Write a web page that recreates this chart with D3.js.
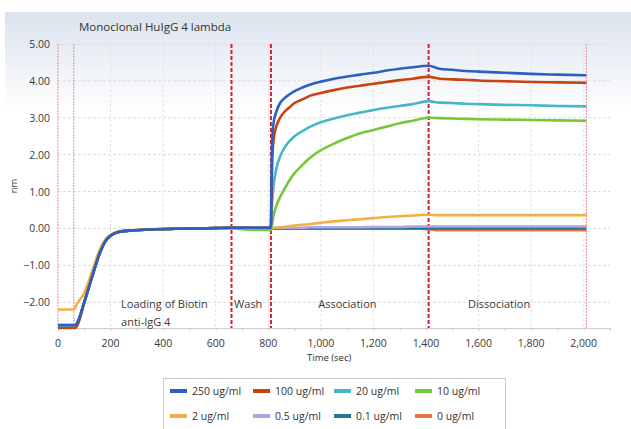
<!DOCTYPE html>
<html>
<head>
<meta charset="utf-8">
<script src="https://cdn.jsdelivr.net/npm/d3@7"></script>
<style>
  body { margin: 0; background: #fff; }
  svg { display: block; font-family: "Open Sans", "Noto Sans", sans-serif; }
</style>
</head>
<body>
<svg id="chart" width="631" height="429"></svg>
<script>
// sample times (sec) shared by every series
const times = [0, 60, 65, 72, 100, 130, 160, 180, 200, 230, 270, 350, 450, 550, 660, 740, 810,
  812, 815, 820, 830, 845, 860, 880, 900, 930, 960, 1000, 1050, 1100, 1150, 1200, 1250, 1300, 1350, 1410,
  1450, 1500, 1550, 1600, 1700, 1800, 1900, 2010];

// loading + wash, common to most sensors
const load = (b) => [b, b, b, b + 0.05, -2.0, -1.3, -0.65, -0.35, -0.2, -0.1, -0.06, -0.03, -0.01, 0.0, 0.02, 0.02, 0.02];

const s250 = load(-2.62).concat([1.2, 2.4, 2.85, 3.15, 3.4, 3.52, 3.63, 3.72, 3.82, 3.9, 3.98, 4.06, 4.12, 4.17, 4.22, 4.28, 4.33, 4.37, 4.41,
  4.33, 4.3, 4.27, 4.25, 4.22, 4.19, 4.17, 4.15]);
const s100 = load(-2.7).concat([0.8, 1.8, 2.4, 2.75, 3.0, 3.15, 3.28, 3.4, 3.5, 3.6, 3.67, 3.75, 3.82, 3.87, 3.92, 3.97, 4.02, 4.06, 4.11,
  4.06, 4.04, 4.03, 4.01, 3.99, 3.97, 3.96, 3.95]);
const s20 = load(-2.64).concat([0.35, 0.75, 1.15, 1.6, 1.95, 2.17, 2.36, 2.5, 2.64, 2.76, 2.88, 2.98, 3.07, 3.14, 3.21, 3.27, 3.32, 3.37, 3.45,
  3.41, 3.4, 3.38, 3.37, 3.35, 3.34, 3.32, 3.31]);
const s10 = [-2.66, -2.66, -2.66, -2.61, -2.0, -1.3, -0.65, -0.35, -0.2, -0.1, -0.06, -0.03, -0.01, 0.0, 0.0, -0.04, -0.04,
  0.05, 0.15, 0.35, 0.6, 0.85, 1.05, 1.3, 1.5, 1.72, 1.92, 2.12, 2.3, 2.45, 2.58, 2.67, 2.76, 2.85, 2.92, 3.0,
  2.99, 2.98, 2.97, 2.96, 2.95, 2.94, 2.93, 2.92];
const s2 = [-2.2, -2.2, -2.15, -2.05, -1.75, -1.15, -0.55, -0.3, -0.17, -0.08, -0.05, -0.03, -0.01, 0.0, 0.02, 0.02, 0.0,
  0.0, 0.01, 0.01, 0.02, 0.03, 0.04, 0.06, 0.08, 0.1, 0.12, 0.15, 0.19, 0.22, 0.25, 0.28, 0.31, 0.33, 0.35, 0.37,
  0.36, 0.36, 0.36, 0.36, 0.36, 0.36, 0.36, 0.36];
const s05 = load(-2.62).concat([0.02, 0.02, 0.02, 0.02, 0.02, 0.02, 0.02, 0.02, 0.02, 0.03, 0.03, 0.03, 0.03, 0.03, 0.04, 0.04, 0.04, 0.05, 0.05,
  0.05, 0.05, 0.05, 0.05, 0.05, 0.05, 0.05, 0.05]);
const s01 = load(-2.64).concat([0.01, 0.0, 0.0, 0.0, 0.0, 0.0, 0.0, 0.0, 0.0, 0.0, 0.0, 0.0, 0.0, 0.0, 0.0, 0.0, 0.0, 0.0, 0.0,
  0.0, 0.0, 0.0, 0.0, 0.0, 0.0, 0.0, 0.0]);
const s0 = load(-2.68).concat([0.01, 0.0, 0.0, 0.0, 0.0, 0.0, 0.0, 0.0, 0.0, 0.0, 0.0, 0.0, 0.0, 0.0, 0.0, 0.0, 0.0, 0.0, -0.02,
  -0.05, -0.05, -0.05, -0.05, -0.05, -0.05, -0.05, -0.05]);

const seriesNames = ["250 ug/ml", "100 ug/ml", "20 ug/ml", "10 ug/ml", "2 ug/ml", "0.5 ug/ml", "0.1 ug/ml", "0 ug/ml"];
const seriesValues = [s250, s100, s20, s10, s2, s05, s01, s0];
const colors = ["#2c5fc4", "#c9420f", "#47b6c9", "#74c83a", "#f2b043", "#b3a3e6", "#1f7b8c", "#f2724f"];

// step boundaries (sec); thick = main step changes
const steps = [0, 60, 660, 810, 1410, 2010];
const stepThick = [false, false, true, true, true, false];
const stepLabels = [
  { t: 240, lines: ["Loading of Biotin", "anti-IgG 4"] },
  { t: 670, lines: ["Wash"] },
  { t: 990, lines: ["Association"] },
  { t: 1560, lines: ["Dissociation"] }
];

const yTicks = [-2, -1, 0, 1, 2, 3, 4, 5];
const xTicks = d3.range(0, 2001, 200);

const svg = d3.select("#chart");

// header gradient panel
const grad = svg.append("defs").append("linearGradient")
  .attr("id", "bg").attr("x1", 0).attr("y1", 0).attr("x2", 0).attr("y2", 1);
grad.append("stop").attr("offset", "0%").attr("stop-color", "#dbe3ee");
grad.append("stop").attr("offset", "24%").attr("stop-color", "#ffffff");
svg.append("rect").attr("x", 5).attr("y", 12).attr("width", 626).attr("height", 417).attr("fill", "url(#bg)");

const x = d3.scaleLinear().domain([0, 2100]).range([58, 610]);
const y = d3.scaleLinear().domain([-2.7, 5]).range([328, 44]);

// grid
svg.append("g").selectAll("line").data(yTicks).join("line")
  .attr("x1", 58).attr("x2", 610)
  .attr("y1", d => y(d)).attr("y2", d => y(d))
  .attr("stroke", "#dcdcdc").attr("stroke-dasharray", "3,2");
svg.append("g").selectAll("line").data(xTicks.filter(d => d > 0)).join("line")
  .attr("x1", d => x(d)).attr("x2", d => x(d))
  .attr("y1", y(5)).attr("y2", y(-2.7))
  .attr("stroke", "#e2e2e2").attr("stroke-dasharray", "3,2");

// x axis
const xAxis = svg.append("g").attr("transform", `translate(0,${y(-2.7)})`)
  .call(d3.axisBottom(x).tickValues(d3.range(0, 2101, 100)).tickSize(3).tickFormat(""));
xAxis.select(".domain").attr("stroke", "#cfcfcf");
xAxis.selectAll(".tick line").attr("stroke", "#cfcfcf");
svg.append("g").selectAll("text").data(xTicks).join("text")
  .attr("x", d => x(d)).attr("y", 347)
  .attr("text-anchor", "middle").attr("font-size", 10.5).attr("fill", "#3a3a3a")
  .text(d3.format(",")); 

// y axis labels
svg.append("g").selectAll("text").data(yTicks).join("text")
  .attr("x", 50).attr("y", d => y(d) + 4)
  .attr("text-anchor", "end").attr("font-size", 10.5).attr("fill", "#3a3a3a")
  .text(d3.format(".2f"));

svg.append("text").attr("transform", "translate(17,186) rotate(-90)")
  .attr("text-anchor", "middle").attr("font-size", 9.5).attr("fill", "#444").text("nm");
svg.append("text").attr("x", 307).attr("y", 361)
  .attr("font-size", 9.5).attr("fill", "#333").text("Time (sec)");
svg.append("text").attr("x", 79).attr("y", 31)
  .attr("font-size", 11.5).attr("fill", "#333").text("Monoclonal HuIgG 4 lambda");

// step lines
svg.append("g").selectAll("line").data(steps).join("line")
  .attr("x1", d => x(d)).attr("x2", d => x(d))
  .attr("y1", y(5)).attr("y2", y(-2.7))
  .attr("stroke", (d, i) => stepThick[i] ? "#d21f2f" : "#e98a96")
  .attr("stroke-width", (d, i) => stepThick[i] ? 2 : 1)
  .attr("stroke-dasharray", (d, i) => stepThick[i] ? "4,2" : "2,1");

// phase labels
const lbl = svg.append("g").selectAll("text").data(stepLabels).join("text")
  .attr("font-size", 11).attr("fill", "#3a3a3a");
lbl.selectAll("tspan").data(d => d.lines.map((l, i) => ({ l, i, t: d.t }))).join("tspan")
  .attr("x", d => x(d.t)).attr("y", d => 308 + d.i * 18).text(d => d.l);

// series
const line = d3.line().x(d => x(d[0])).y(d => y(d[1])).curve(d3.curveMonotoneX);
const order = d3.range(seriesNames.length).reverse();
svg.append("g").selectAll("path").data(order).join("path")
  .attr("d", i => line(times.map((t, k) => [t, seriesValues[i][k]])))
  .attr("fill", "none").attr("stroke", i => colors[i]).attr("stroke-width", 2.6)
  .attr("stroke-linejoin", "round");

// legend
svg.append("rect").attr("x", 163.5).attr("y", 378.5).attr("width", 342).attr("height", 60)
  .attr("fill", "#fff").attr("stroke", "#c8c8c8");
const colX = [170, 253, 334, 415];
const leg = svg.append("g").selectAll("g").data(seriesNames).join("g")
  .attr("transform", (d, i) => `translate(${colX[i % 4]},${i < 4 ? 391 : 416})`);
leg.append("rect").attr("x", 0).attr("y", -2).attr("width", 17).attr("height", 4)
  .attr("fill", (d, i) => colors[i]);
leg.append("text").attr("x", 22).attr("y", 4).attr("font-size", 10.5).attr("fill", "#333").text(d => d);
</script>
</body>
</html>
